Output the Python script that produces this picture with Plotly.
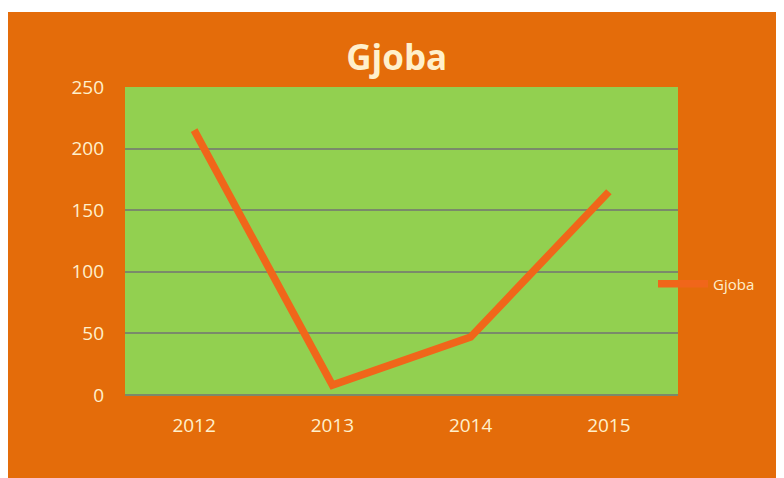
import plotly.graph_objects as go

years = ["2012", "2013", "2014", "2015"]
gjoba = [215, 8, 47, 165]
y_ticks = [0, 50, 100, 150, 200, 250]

# figure is placed at an 8px offset by the page margin
W, H = 776, 470
L, R, T, B = 117, 106, 79, 83
pw, ph = W - L - R, H - T - B

def px_x(p):
    return (p - L) / pw

def px_y(p):
    return (H - B - p) / ph

ORANGE_BG = "#E46C0A"
LINE = "#F0661A"
GREEN = "#92D050"
TEXT = "#FFF0CC"

fig = go.Figure()
fig.add_trace(go.Scatter(
    x=years, y=gjoba, mode="lines", name="Gjoba",
    line=dict(color=LINE, width=7.5),
))

fig.update_layout(
    width=W, height=H,
    margin=dict(l=L, r=R, t=T, b=B),
    paper_bgcolor=ORANGE_BG,
    plot_bgcolor=GREEN,
    title=dict(text="<b>Gjoba</b>", x=px_x(394), xanchor="center",
               y=1 - 50 / H, yanchor="middle",
               font=dict(family="Open Sans", size=35, color=TEXT)),
    font=dict(family="Open Sans", color=TEXT),
    showlegend=True,
    legend=dict(x=px_x(645), xanchor="left", y=px_y(276), yanchor="middle",
                itemwidth=50,
                bgcolor="rgba(0,0,0,0)", font=dict(size=15, color=TEXT)),
    xaxis=dict(type="category", range=[-0.5, 3.5], showgrid=False,
               showline=False, zeroline=False, ticks="",
               ticklabelstandoff=17,
               tickfont=dict(size=19, color=TEXT)),
    yaxis=dict(range=[0, 250], tickvals=y_ticks, showgrid=True,
               gridcolor="#7A8A6A", gridwidth=1.5, zeroline=True,
               zerolinecolor="#7A8A6A", zerolinewidth=1.5,
               ticks="", ticklabelstandoff=20,
               tickfont=dict(size=19, color=TEXT)),
    shapes=[
        dict(type="rect", xref="paper", yref="paper",
             x0=px_x(-5), x1=px_x(W + 5), y0=px_y(4), y1=px_y(-5),
             fillcolor="white", line=dict(width=0), layer="above"),
    ],
)

fig.write_html("out.html")
